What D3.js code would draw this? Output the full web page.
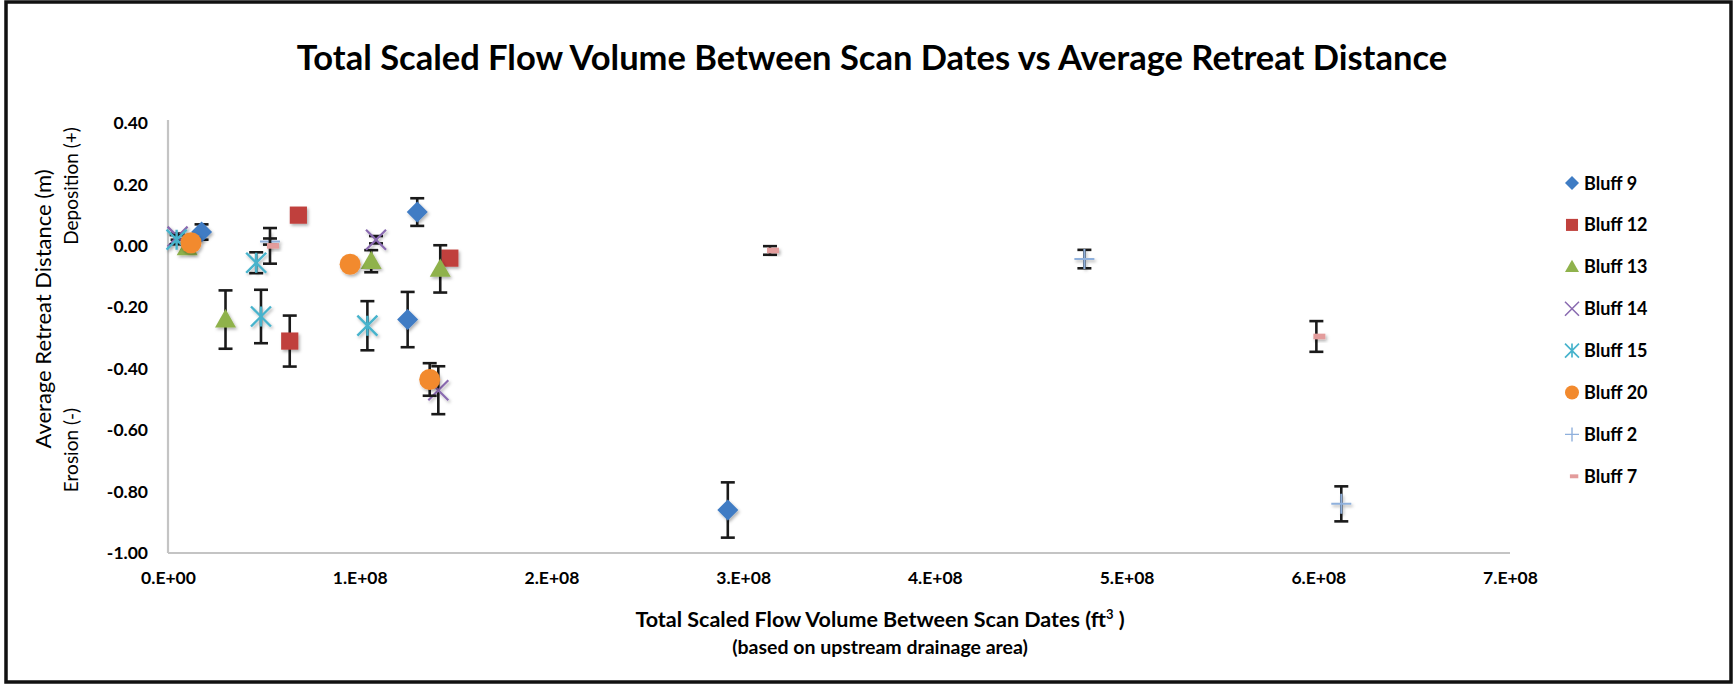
<!DOCTYPE html>
<html>
<head>
<meta charset="utf-8">
<script src="https://cdn.jsdelivr.net/npm/d3@7"></script>
<style>
  html, body { margin: 0; padding: 0; background: #ffffff; }
  svg { display: block; }
  text { font-family: Lato, "Open Sans", sans-serif; fill: #000; }
</style>
</head>
<body>
<svg id="chart" width="1736" height="685"></svg>
<script>
// Series names in legend / draw order
const seriesNames = ["Bluff 9", "Bluff 12", "Bluff 13", "Bluff 14", "Bluff 15", "Bluff 20", "Bluff 2", "Bluff 7"];

// Total scaled flow volume (ft^3) per series
const flowBluff9  = [1.75e7, 1.30e8, 1.25e8, 2.92e8];
const flowBluff12 = [6.80e7, 6.35e7, 1.47e8];
const flowBluff13 = [1.00e7, 3.00e7, 1.06e8, 1.42e8];
const flowBluff14 = [0.50e7, 1.085e8, 1.41e8];
const flowBluff15 = [0.45e7, 4.60e7, 4.85e7, 1.04e8];
const flowBluff20 = [1.20e7, 9.50e7, 1.365e8];
const flowBluff2  = [5.32e7, 4.78e8, 6.12e8];
const flowBluff7  = [5.32e7, 3.14e8, 5.99e8];

// Average retreat distance (m) per series
const retreatBluff9  = [0.045, 0.11, -0.24, -0.86];
const retreatBluff12 = [0.10, -0.31, -0.04];
const retreatBluff13 = [-0.005, -0.24, -0.05, -0.075];
const retreatBluff14 = [0.03, 0.02, -0.47];
const retreatBluff15 = [0.02, -0.055, -0.23, -0.26];
const retreatBluff20 = [0.01, -0.06, -0.435];
const retreatBluff2  = [0.014, -0.043, -0.84];
const retreatBluff7  = [0.0, -0.015, -0.295];

// Error bar half-widths (m)
const errBluff9  = [0.025, 0.045, 0.09, 0.09];
const errBluff12 = [0.01, 0.083, 0.01];
const errBluff13 = [0.01, 0.095, 0.036, 0.077];
const errBluff14 = [0.01, 0.012, 0.078];
const errBluff15 = [0.015, 0.034, 0.087, 0.08];
const errBluff20 = [0.01, 0.01, 0.053];
const errBluff2  = [0.01, 0.03, 0.057];
const errBluff7  = [0.058, 0.014, 0.05];

// Axis ticks
const xTicks = [0, 1e8, 2e8, 3e8, 4e8, 5e8, 6e8, 7e8];
const xTickLabels = ["0.E+00", "1.E+08", "2.E+08", "3.E+08", "4.E+08", "5.E+08", "6.E+08", "7.E+08"];
const yTicks = [0.4, 0.2, 0.0, -0.2, -0.4, -0.6, -0.8, -1.0];
const yTickLabels = ["0.40", "0.20", "0.00", "-0.20", "-0.40", "-0.60", "-0.80", "-1.00"];

const flows = [flowBluff9, flowBluff12, flowBluff13, flowBluff14, flowBluff15, flowBluff20, flowBluff2, flowBluff7];
const retreats = [retreatBluff9, retreatBluff12, retreatBluff13, retreatBluff14, retreatBluff15, retreatBluff20, retreatBluff2, retreatBluff7];
const errs = [errBluff9, errBluff12, errBluff13, errBluff14, errBluff15, errBluff20, errBluff2, errBluff7];

const series = seriesNames.map((name, i) => ({
  name,
  points: flows[i].map((f, j) => ({ x: f, y: retreats[i][j], e: errs[i][j] }))
}));

// Marker look per series
const styles = {
  "Bluff 9":  { shape: "diamond",  color: "#3f7cc4" },
  "Bluff 12": { shape: "square",   color: "#c0413d" },
  "Bluff 13": { shape: "triangle", color: "#8fb24c" },
  "Bluff 14": { shape: "x",        color: "#8a6bb0" },
  "Bluff 15": { shape: "star",     color: "#47b3cc" },
  "Bluff 20": { shape: "circle",   color: "#f28a2e" },
  "Bluff 2":  { shape: "plus",     color: "#8fb0dc" },
  "Bluff 7":  { shape: "dash",     color: "#e39c9c" }
};

function drawMarker(g, shape, color, s) {
  // s = nominal marker size in px
  const h = s / 2;
  switch (shape) {
    case "diamond":
      g.append("path").attr("d", `M0,${-h} L${h},0 L0,${h} L${-h},0 Z`).attr("fill", color);
      break;
    case "square":
      g.append("rect").attr("x", -h * 0.86).attr("y", -h * 0.86)
        .attr("width", s * 0.86).attr("height", s * 0.86).attr("fill", color);
      break;
    case "triangle":
      g.append("path").attr("d", `M0,${-h} L${h},${h * 0.75} L${-h},${h * 0.75} Z`).attr("fill", color);
      break;
    case "circle":
      g.append("circle").attr("r", h).attr("fill", color);
      break;
    case "x":
      g.append("path").attr("d", `M${-h},${-h} L${h},${h} M${-h},${h} L${h},${-h}`)
        .attr("stroke", color).attr("stroke-width", s * 0.11).attr("fill", "none");
      break;
    case "star":
      g.append("path").attr("d", `M${-h},${-h} L${h},${h} M${-h},${h} L${h},${-h} M0,${-h} L0,${h}`)
        .attr("stroke", color).attr("stroke-width", s * 0.12).attr("fill", "none");
      break;
    case "plus":
      g.append("path").attr("d", `M${-h},0 L${h},0 M0,${-h} L0,${h}`)
        .attr("stroke", color).attr("stroke-width", s * 0.1).attr("fill", "none");
      break;
    case "dash":
      g.append("rect").attr("x", -s * 0.15).attr("y", -s * 0.14)
        .attr("width", s * 0.6).attr("height", s * 0.28).attr("fill", color);
      break;
  }
}

const svg = d3.select("#chart");

// Soft shadow under the markers
const defs = svg.append("defs");
const shadow = defs.append("filter").attr("id", "markerShadow")
  .attr("x", "-50%").attr("y", "-50%").attr("width", "200%").attr("height", "200%");
shadow.append("feDropShadow").attr("dx", 1.5).attr("dy", 2).attr("stdDeviation", 1.4)
  .attr("flood-color", "#000").attr("flood-opacity", 0.3);

// Outer frame
svg.append("rect").attr("x", 6).attr("y", 2).attr("width", 1725).attr("height", 680)
  .attr("fill", "#fff").attr("stroke", "#111").attr("stroke-width", 3.5);

// Scales
const x = d3.scaleLinear().domain([0, 7e8]).range([168, 1510]);
const y = d3.scaleLinear().domain([-1.0, 0.4]).range([553, 123]);

// Axes (lines only, labels drawn from the tick arrays)
const xAxis = d3.axisBottom(x).tickValues(xTicks).tickSize(0).tickFormat((d, i) => xTickLabels[i]).tickPadding(19);
const yAxis = d3.axisLeft(y).tickValues(yTicks).tickSize(0).tickFormat((d, i) => yTickLabels[i]).tickPadding(20);

const gx = svg.append("g").attr("transform", `translate(0,${y(-1.0)})`).call(xAxis);
gx.select(".domain").attr("stroke", "#c4c4c4").attr("stroke-width", 2.2)
  .attr("d", `M${x(0)},0H${x(7e8)}`);
gx.selectAll("text").attr("font-size", 17.5).attr("font-weight", "bold").attr("fill", "#111")
  .style("font-family", "Lato, sans-serif");

const gy = svg.append("g").attr("transform", `translate(${x(0)},0)`).call(yAxis);
gy.select(".domain").attr("stroke", "#c4c4c4").attr("stroke-width", 2.2)
  .attr("d", `M0,${y(0.4) - 3}V${y(-1.0)}`);
gy.selectAll("text").attr("font-size", 17.5).attr("font-weight", "bold").attr("fill", "#111")
  .style("font-family", "Lato, sans-serif");

// Title
svg.append("text").attr("x", 872).attr("y", 70).attr("text-anchor", "middle")
  .attr("font-size", 34.5).attr("font-weight", "bold")
  .text("Total Scaled Flow Volume Between Scan Dates vs Average Retreat Distance");

// X axis titles
const xt = svg.append("text").attr("x", 880).attr("y", 627).attr("text-anchor", "middle")
  .attr("font-size", 21.5).attr("font-weight", "bold");
xt.append("tspan").text("Total Scaled Flow Volume Between Scan Dates (ft");
xt.append("tspan").attr("font-size", 13).attr("dy", -8).text("3");
xt.append("tspan").attr("dy", 8).text(" )");
svg.append("text").attr("x", 880).attr("y", 654).attr("text-anchor", "middle")
  .attr("font-size", 19.5).attr("font-weight", "bold")
  .text("(based on upstream drainage area)");

// Y axis titles
svg.append("text").attr("transform", "translate(51,309) rotate(-90)").attr("text-anchor", "middle")
  .attr("font-size", 22).text("Average Retreat Distance (m)");
svg.append("text").attr("transform", "translate(78,186) rotate(-90)").attr("text-anchor", "middle")
  .attr("font-size", 19).text("Deposition (+)");
svg.append("text").attr("transform", "translate(78,450) rotate(-90)").attr("text-anchor", "middle")
  .attr("font-size", 19).text("Erosion (-)");

// Data: error bars then markers, series by series
const plot = svg.append("g");
const capHalf = 7;
series.forEach(s => {
  const st = styles[s.name];
  const g = plot.append("g");
  const eb = g.append("g").attr("stroke", "#1a1a1a").attr("stroke-width", 2.6).attr("fill", "none");
  s.points.forEach(p => {
    const cx = x(p.x), y0 = y(p.y + p.e), y1 = y(p.y - p.e);
    eb.append("line").attr("x1", cx).attr("x2", cx).attr("y1", y0).attr("y2", y1);
    eb.append("line").attr("x1", cx - capHalf).attr("x2", cx + capHalf).attr("y1", y0).attr("y2", y0);
    eb.append("line").attr("x1", cx - capHalf).attr("x2", cx + capHalf).attr("y1", y1).attr("y2", y1);
  });
  const size = { diamond: 21, square: 20, triangle: 21, circle: 21, x: 20, star: 20, plus: 20, dash: 20 }[st.shape];
  s.points.forEach(p => {
    const m = g.append("g").attr("transform", `translate(${x(p.x)},${y(p.y)})`)
      .attr("filter", "url(#markerShadow)");
    drawMarker(m, st.shape, st.color, size);
  });
});

// Legend
const legend = svg.append("g");
seriesNames.forEach((name, i) => {
  const st = styles[name];
  const row = legend.append("g").attr("transform", `translate(1572,${183 + i * 41.9})`);
  const mk = row.append("g");
  drawMarker(mk, st.shape, st.color, 14);
  row.append("text").attr("x", 12).attr("y", 6.5).attr("font-size", 18).attr("font-weight", "bold").text(name);
});
</script>
</body>
</html>
